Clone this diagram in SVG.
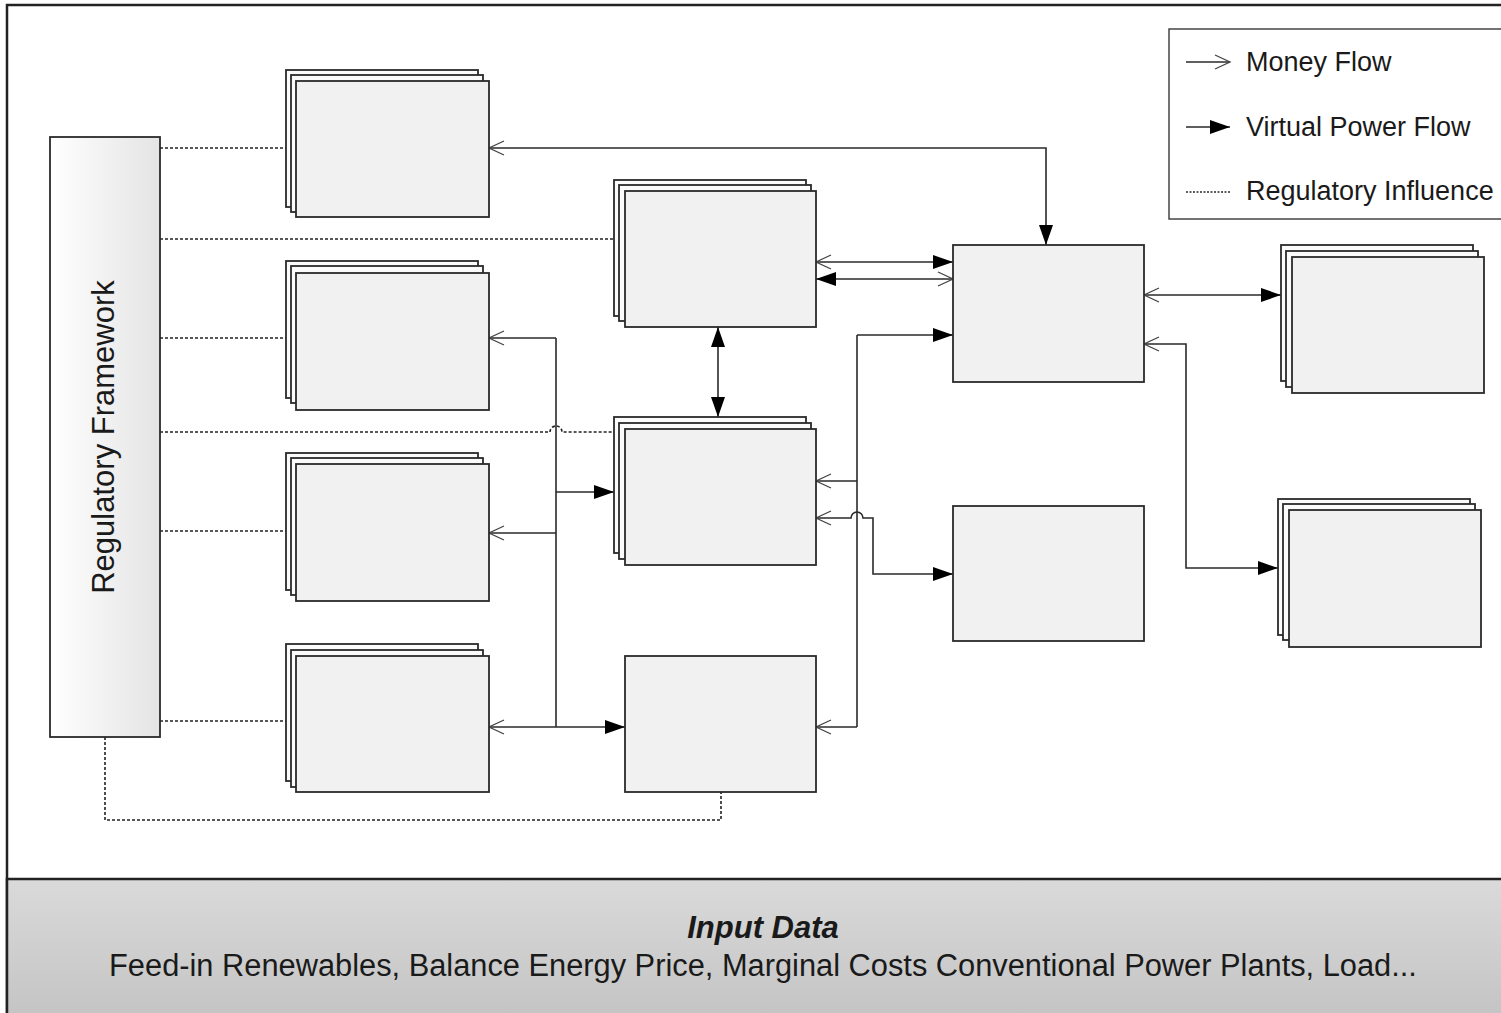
<svg xmlns="http://www.w3.org/2000/svg" width="1501" height="1013" viewBox="0 0 1501 1013">
<style>
  .back{fill:#fbfbfb;stroke:#2a2a2a;stroke-width:1.8}
  .front{fill:#f1f1f1;stroke:#2a2a2a;stroke-width:1.8}
  .conn{fill:none;stroke:#2a2a2a;stroke-width:1.6}
  .dash{fill:none;stroke:#222;stroke-width:1.6;stroke-dasharray:3 2}
  .txt{font-family:"Liberation Sans",Arial,sans-serif;fill:#1a1a1a}
</style>
<defs>
  <linearGradient id="regGrad" x1="0" y1="0" x2="1" y2="0">
    <stop offset="0" stop-color="#ffffff"/>
    <stop offset="1" stop-color="#e4e4e4"/>
  </linearGradient>
  <linearGradient id="bandGrad" x1="0" y1="0" x2="0" y2="1">
    <stop offset="0" stop-color="#dadada"/>
    <stop offset="1" stop-color="#c2c2c2"/>
  </linearGradient>
  <marker id="filled" markerUnits="userSpaceOnUse" markerWidth="22" markerHeight="14" refX="20" refY="7" orient="auto-start-reverse" overflow="visible">
    <path d="M0,0 L20,7 L0,14 z" fill="#000"/>
  </marker>
  <marker id="open" markerUnits="userSpaceOnUse" markerWidth="18" markerHeight="16" refX="16" refY="7.5" orient="auto-start-reverse" overflow="visible">
    <path d="M1,0.5 L16,7.5 L1,14.5" fill="none" stroke="#444" stroke-width="1.3"/>
  </marker>
</defs>

<rect x="0" y="0" width="1501" height="1013" fill="#ffffff"/>
<!-- outer frame -->
<rect x="7" y="5" width="1510" height="1020" fill="#ffffff" stroke="#222" stroke-width="2.5"/>
<!-- input data band -->
<g id="input-data">
  <rect x="7" y="879" width="1510" height="150" fill="url(#bandGrad)" stroke="#222" stroke-width="2.5"/>
  <text class="txt" x="763" y="938" font-size="31" font-weight="bold" font-style="italic" text-anchor="middle">Input Data</text>
  <text class="txt" x="763" y="976" font-size="30.8" text-anchor="middle">Feed-in Renewables, Balance Energy Price, Marginal Costs Conventional Power Plants, Load...</text>
</g>

<!-- legend -->
<g id="legend">
  <rect x="1169" y="29" width="345" height="190" fill="#fff" stroke="#444" stroke-width="1.5"/>
  <line x1="1186" y1="62" x2="1230" y2="62" class="conn" marker-end="url(#open)"/>
  <line x1="1186" y1="127" x2="1230" y2="127" class="conn" marker-end="url(#filled)"/>
  <line x1="1186" y1="192" x2="1230" y2="192" class="conn" stroke-dasharray="2 1.5"/>
  <text class="txt" x="1246" y="71" font-size="27">Money Flow</text>
  <text class="txt" x="1246" y="136" font-size="27">Virtual Power Flow</text>
  <text class="txt" x="1246" y="200" font-size="27">Regulatory Influence</text>
</g>

<!-- connectors -->
<g id="connectors">
  <!-- regulatory influence -->
  <path class="dash" d="M160,148 H286"/>
  <path class="dash" d="M160,239 H614"/>
  <path class="dash" d="M160,338 H286"/>
  <path class="dash" d="M160,432 H550 A6,6 0 0 1 562,432 H614"/>
  <path class="dash" d="M160,531 H286"/>
  <path class="dash" d="M160,721 H286"/>
  <path class="dash" d="M105,737 V820 H721 V792"/>
  <!-- flows -->
  <path class="conn" d="M489,148 H1046 V245" marker-start="url(#open)" marker-end="url(#filled)"/>
  <path class="conn" d="M816,262 H953" marker-start="url(#open)" marker-end="url(#filled)"/>
  <path class="conn" d="M816,279 H953" marker-start="url(#filled)" marker-end="url(#open)"/>
  <path class="conn" d="M718,327 V417" marker-start="url(#filled)" marker-end="url(#filled)"/>
  <path class="conn" d="M556,338 V727"/>
  <path class="conn" d="M489,338 H556" marker-start="url(#open)"/>
  <path class="conn" d="M556,492 H614" marker-end="url(#filled)"/>
  <path class="conn" d="M489,533 H556" marker-start="url(#open)"/>
  <path class="conn" d="M489,727 H625" marker-start="url(#open)" marker-end="url(#filled)"/>
  <path class="conn" d="M857,335 V727"/>
  <path class="conn" d="M857,335 H953" marker-end="url(#filled)"/>
  <path class="conn" d="M816,481 H857" marker-start="url(#open)"/>
  <path class="conn" d="M816,727 H857" marker-start="url(#open)"/>
  <path class="conn" d="M816,518 H851 A6,6 0 0 1 863,518 H873 V574 H953" marker-start="url(#open)" marker-end="url(#filled)"/>
  <path class="conn" d="M1144,295 H1281" marker-start="url(#open)" marker-end="url(#filled)"/>
  <path class="conn" d="M1144,344 H1186 V568 H1278" marker-start="url(#open)" marker-end="url(#filled)"/>
</g>

<!-- regulatory framework -->
<g id="regulatory-framework">
  <rect x="50" y="137" width="110" height="600" fill="url(#regGrad)" stroke="#2a2a2a" stroke-width="1.8"/>
  <text class="txt" x="114" y="437" font-size="31" text-anchor="middle" transform="rotate(-90 114 437)">Regulatory Framework</text>
</g>

<!-- left column stacked nodes -->
<g id="node-l1">
  <rect class="back" x="286" y="70" width="192" height="137"/>
  <rect class="back" x="291" y="75" width="192" height="137"/>
  <rect class="front" x="296" y="81" width="193" height="136"/>
</g>
<g id="node-l2">
  <rect class="back" x="286" y="261" width="192" height="137"/>
  <rect class="back" x="291" y="266" width="192" height="137"/>
  <rect class="front" x="296" y="273" width="193" height="137"/>
</g>
<g id="node-l3">
  <rect class="back" x="286" y="453" width="192" height="137"/>
  <rect class="back" x="291" y="458" width="192" height="137"/>
  <rect class="front" x="296" y="464" width="193" height="137"/>
</g>
<g id="node-l4">
  <rect class="back" x="286" y="644" width="192" height="137"/>
  <rect class="back" x="291" y="650" width="192" height="137"/>
  <rect class="front" x="296" y="656" width="193" height="136"/>
</g>

<!-- middle column -->
<g id="node-m1">
  <rect class="back" x="614" y="180" width="192" height="136"/>
  <rect class="back" x="619" y="185" width="192" height="136"/>
  <rect class="front" x="625" y="191" width="191" height="136"/>
</g>
<g id="node-m2">
  <rect class="back" x="614" y="417" width="192" height="136"/>
  <rect class="back" x="619" y="423" width="192" height="136"/>
  <rect class="front" x="625" y="429" width="191" height="136"/>
</g>
<g id="node-m3">
  <rect class="front" x="625" y="656" width="191" height="136"/>
</g>

<!-- right-center column -->
<g id="node-r1">
  <rect class="front" x="953" y="245" width="191" height="137"/>
</g>
<g id="node-r2">
  <rect class="front" x="953" y="506" width="191" height="135"/>
</g>

<!-- far right stacked nodes -->
<g id="node-fr1">
  <rect class="back" x="1281" y="245" width="192" height="136"/>
  <rect class="back" x="1286" y="251" width="192" height="136"/>
  <rect class="front" x="1292" y="257" width="192" height="136"/>
</g>
<g id="node-fr2">
  <rect class="back" x="1278" y="499" width="192" height="136"/>
  <rect class="back" x="1283" y="504" width="192" height="136"/>
  <rect class="front" x="1289" y="510" width="192" height="137"/>
</g>
</svg>
